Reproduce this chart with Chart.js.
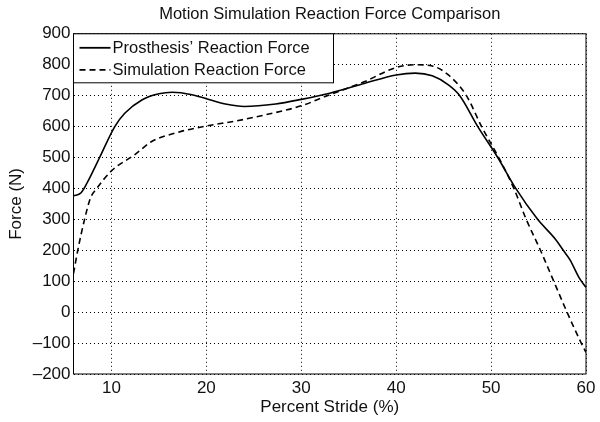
<!DOCTYPE html>
<html>
<head>
<meta charset="utf-8">
<script src="https://cdn.jsdelivr.net/npm/chart.js@4/dist/chart.umd.min.js"></script>
<style>
  html, body { margin: 0; padding: 0; background: #fff; }
  #wrap { width: 600px; height: 422px; }
</style>
</head>
<body>
<div id="wrap"><canvas id="forceChart"></canvas></div>
<script>
// values
const strideP = [6, 6.8, 7.5, 8.2, 8.75, 10.35, 11.4, 13.2, 15, 16.4, 18.5, 20, 22, 24, 27.3, 30, 33, 36.7, 40, 42, 43.8, 45.5, 46.7, 48.6, 50.7, 52.6, 54.9, 56.8, 57.6, 58.3, 59.3, 60];
const forceP  = [376, 386, 422, 465, 500, 600, 643, 686, 706, 711, 703, 690, 673, 665, 673, 688, 708, 740, 767, 773, 764, 735, 700, 600, 500, 400, 300, 235, 200, 170, 110, 80];
const strideS = [6, 6.45, 7.15, 7.8, 8.4, 10, 12.5, 14.2, 16.7, 20, 23.1, 26.2, 30, 32.5, 36.7, 40, 42, 43.8, 45.5, 47.4, 49, 50.8, 52.4, 53.7, 55.2, 56.6, 58, 59.5, 60];
const forceS  = [125, 200, 298, 370, 398, 457, 510, 551, 579, 602, 618, 638, 667, 697, 746, 791, 800, 796, 767, 700, 600, 500, 400, 300, 200, 100, 0, -100, -130];
const xTicks = [10, 20, 30, 40, 50, 60];
const seriesNames = ["Prosthesis\u2019 Reaction Force", "Simulation Reaction Force"];

const FONT = "'Liberation Sans', Arial, Helvetica, sans-serif";
const toXY = (xs, ys) => xs.map((x, i) => ({ x: x, y: ys[i] }));

// frame around the plot + legend box in the upper left corner
const frameLegend = {
    id: 'frameLegend',
    afterDatasetsDraw(chart) {
        const { ctx, chartArea: a } = chart;
        ctx.save();
        ctx.strokeStyle = '#000';
        ctx.lineWidth = 1;
        ctx.setLineDash([]);
        ctx.strokeRect(a.left, a.top, a.right - a.left, a.bottom - a.top);

        const bx = a.left, by = a.top, bw = 260, bh = 49;
        ctx.fillStyle = '#fff';
        ctx.fillRect(bx, by, bw, bh);
        ctx.strokeRect(bx, by, bw, bh);
        ctx.font = '16.5px ' + FONT;
        ctx.textBaseline = 'middle';
        const dashes = [[], [6, 4]];
        chart.data.datasets.forEach((ds, i) => {
            const yy = by + 14 + i * 22;
            ctx.beginPath();
            ctx.lineWidth = 1.8;
            ctx.setLineDash(dashes[i]);
            ctx.moveTo(bx + 6, yy);
            ctx.lineTo(bx + 37, yy);
            ctx.stroke();
            ctx.setLineDash([]);
            ctx.fillStyle = '#111';
            ctx.fillText(ds.label, bx + 39, yy + 1);
        });
        ctx.restore();
    }
};

new Chart(document.getElementById('forceChart').getContext('2d'), {
    type: 'line',
    data: {
        datasets: [
            { label: seriesNames[0], data: toXY(strideP, forceP), borderColor: '#000', borderWidth: 1.6, pointRadius: 0, fill: false, cubicInterpolationMode: 'monotone' },
            { label: seriesNames[1], data: toXY(strideS, forceS), borderColor: '#000', borderWidth: 1.6, borderDash: [6, 4], pointRadius: 0, fill: false, cubicInterpolationMode: 'monotone' }
        ]
    },
    options: {
        responsive: true,
        maintainAspectRatio: false,
        animation: false,
        layout: { padding: { left: 0, right: 14, top: 0, bottom: 0 } },
        plugins: {
            legend: { display: false },
            tooltip: { enabled: false },
            title: {
                display: true,
                fullSize: false,
                text: 'Motion Simulation Reaction Force Comparison',
                color: '#111',
                font: { family: FONT, size: 16.5, weight: 'normal' },
                padding: { top: 5, bottom: 9 }
            }
        },
        scales: {
            x: {
                type: 'linear',
                min: 6, max: 60,
                afterBuildTicks: s => { s.ticks = xTicks.map(v => ({ value: v })); },
                afterFit: s => { s.height = 48; },
                grid: { color: '#000', lineWidth: 1, drawTicks: false },
                border: { display: false, dash: [1, 3] },
                ticks: { color: '#111', font: { family: FONT, size: 17 }, padding: 4, maxRotation: 0 },
                title: { display: true, text: 'Percent Stride (%)', color: '#111', font: { family: FONT, size: 17 }, padding: { top: 0, bottom: 4 } }
            },
            y: {
                min: -200, max: 900,
                ticks: { stepSize: 100, color: '#111', font: { family: FONT, size: 17 }, padding: 3,
                         callback: v => String(v).replace('-', '\u2013') },
                afterFit: s => { s.width = 73.5; },
                grid: { color: '#000', lineWidth: 1, drawTicks: false },
                border: { display: false, dash: [1, 3] },
                title: { display: true, text: 'Force (N)', color: '#111', font: { family: FONT, size: 17 }, padding: { top: 6, bottom: 0 } }
            }
        }
    },
    plugins: [frameLegend]
});
</script>
</body>
</html>
